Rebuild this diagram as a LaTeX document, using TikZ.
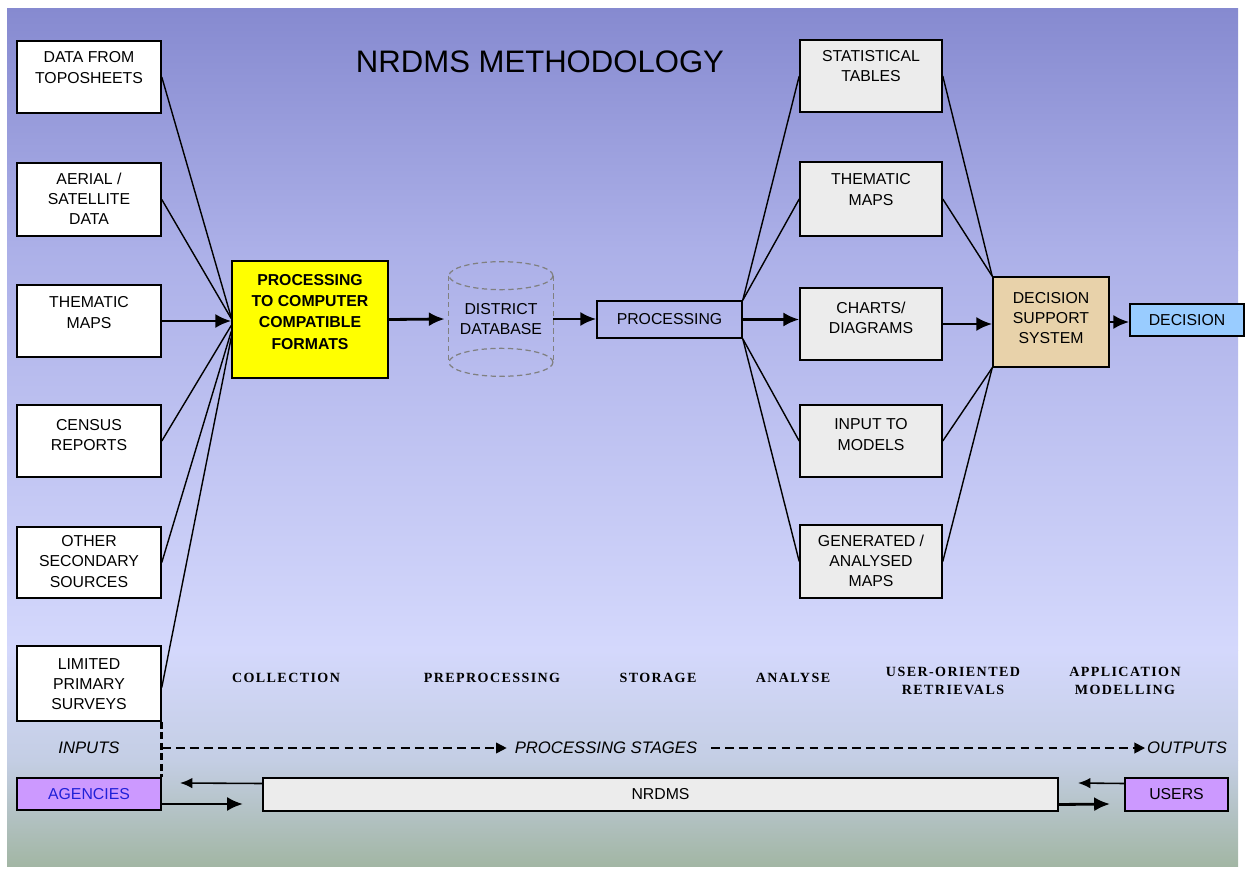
\documentclass[tikz,border=0pt]{standalone}
\usepackage{fontspec}
\setmainfont{Liberation Sans}
\newfontfamily\stagefont[LetterSpace=10]{Liberation Serif}
\usetikzlibrary{arrows.meta,calc}
\definecolor{bgA}{HTML}{868AD0}
\definecolor{bgB}{HTML}{ACB0E8}
\definecolor{bgC}{HTML}{D4D8FC}
\definecolor{bgD}{HTML}{C4CEE4}
\definecolor{bgE}{HTML}{A2B6A4}
\definecolor{boxgray}{HTML}{ECECEC}
\definecolor{procyellow}{HTML}{FFFF00}
\definecolor{dsstan}{HTML}{E8D2AA}
\definecolor{decblue}{HTML}{99CCFF}
\definecolor{agpurple}{HTML}{CC99FF}
\definecolor{agtext}{HTML}{2020D8}
\definecolor{cylgray}{HTML}{808080}
\begin{document}
\begin{tikzpicture}[x=0.02cm,y=-0.02cm,
  lbox/.style={draw=black, line width=0.9pt, fill=white, minimum width=2.88cm, minimum height=1.44cm, inner sep=0pt},
  rbox/.style={lbox, fill=boxgray, minimum width=2.84cm},
  btxt/.style={font=\fontsize{9}{11.5}\selectfont, align=center, inner sep=0pt},
  fan/.style={line width=0.8pt},
  arr/.style={line width=1.6pt, -{Latex[length=9pt,width=8pt]}},
  thinarr/.style={line width=0.9pt, -{Latex[length=7pt,width=6pt]}},
  dsh/.style={line width=1pt, dash pattern=on 5pt off 3pt, -{Triangle[length=6pt,width=6pt]}},
  stagelab/.style={font=\stagefont\bfseries\fontsize{8}{10}\selectfont, align=center, inner sep=0pt},
  itlab/.style={font=\itshape\fontsize{9.5}{11}\selectfont, inner sep=1pt},
  cyl/.style={draw=cylgray, line width=0.7pt, densely dashed}
]
\useasboundingbox (0,0) rectangle (1245,869);
% background
\shade[top color=bgA, bottom color=bgB] (7,8) rectangle (1238,250);
\shade[top color=bgB, bottom color=bgC] (7,250) rectangle (1238,650);
\shade[top color=bgC, bottom color=bgD] (7,650) rectangle (1238,760);
\shade[top color=bgD, bottom color=bgE] (7,760) rectangle (1238,866);

% title
\node[font=\fontsize{17.7}{20}\selectfont, inner sep=0pt] (title) at (540,62) {NRDMS METHODOLOGY};

% left input boxes
\node[lbox] (topo) at (89,77) {};
\node[btxt] (topoT) at (89,67.5) {DATA FROM\\TOPOSHEETS};
\node[lbox, minimum height=1.46cm] (aer) at (89,199.5) {};
\node[btxt] (aerT) at (89,199) {AERIAL /\\SATELLITE\\DATA};
\node[lbox] (them) at (89,321) {};
\node[btxt] (themT) at (89,312.5) {THEMATIC\\MAPS};
\node[lbox] (cen) at (89,441) {};
\node[btxt] (cenT) at (89,435) {CENSUS\\REPORTS};
\node[lbox, minimum height=1.42cm] (oth) at (89,562.5) {};
\node[btxt] (othT) at (89,561.5) {OTHER\\SECONDARY\\SOURCES};
\node[lbox, minimum height=1.5cm] (lim) at (89,683.5) {};
\node[btxt] (limT) at (89,684) {LIMITED\\PRIMARY\\SURVEYS};

% processing to computer compatible formats
\node[draw=black, line width=0.9pt, fill=procyellow, minimum width=3.12cm, minimum height=2.34cm, inner sep=0pt] (proc) at (310,319.5) {};
\node[btxt, font=\bfseries\fontsize{9}{12}\selectfont] (procT) at (310,312) {PROCESSING\\TO COMPUTER\\COMPATIBLE\\FORMATS};

% district database (cylinder)
\node[btxt, minimum width=2.08cm, minimum height=2.28cm] (db) at (501,319) {DISTRICT\\DATABASE};
\draw[cyl] ($(db.north)+(0,14)$) ellipse [x radius=1.04cm, y radius=0.28cm];
\draw[cyl] ($(db.south)+(0,-14)$) ellipse [x radius=1.04cm, y radius=0.28cm];
\draw[cyl] ($(db.north west)+(0,14)$) -- ($(db.south west)+(0,-14)$);
\draw[cyl] ($(db.north east)+(0,14)$) -- ($(db.south east)+(0,-14)$);

% processing
\node[draw=black, line width=0.9pt, minimum width=2.9cm, minimum height=0.74cm, inner sep=0pt, font=\fontsize{9}{11}\selectfont] (pr) at (669.5,319.5) {PROCESSING};

% right output boxes
\node[rbox] (stat) at (871,76) {};
\node[btxt] (statT) at (871,66) {STATISTICAL\\TABLES};
\node[rbox, minimum height=1.48cm] (thm) at (871,199) {};
\node[btxt] (thmT) at (871,189.5) {THEMATIC\\MAPS};
\node[rbox] (chart) at (871,324) {};
\node[btxt] (chartT) at (871,317.5) {CHARTS/\\DIAGRAMS};
\node[rbox] (mod) at (871,441) {};
\node[btxt] (modT) at (871,434.5) {INPUT TO\\MODELS};
\node[rbox, minimum height=1.46cm] (gen) at (871,561.5) {};
\node[btxt] (genT) at (871,561) {GENERATED /\\ANALYSED\\MAPS};

% decision support system
\node[draw=black, line width=0.9pt, fill=dsstan, minimum width=2.32cm, minimum height=1.8cm, inner sep=0pt] (dss) at (1051,322) {};
\node[btxt] (dssT) at (1051,318) {DECISION\\SUPPORT\\SYSTEM};
\node[draw=black, line width=0.9pt, fill=decblue, minimum width=2.28cm, minimum height=0.64cm, inner sep=0pt, font=\fontsize{9}{11}\selectfont] (dec) at (1187,320) {DECISION};

% fan-in lines
\draw[fan] (topo.east) -- ($(proc.west)+(0,-2)$);
\draw[fan] (aer.east) -- ($(proc.west)+(0,-1)$);
\draw[arr] (them.east) -- (them.east -| proc.west);
\draw[fan] (cen.east) -- ($(proc.west)+(0,6)$);
\draw[fan] (oth.east) -- ($(proc.west)+(0,12)$);
\draw[fan] ($(lim.east)+(0,4)$) -- ($(proc.west)+(0,18)$);

% main flow
\draw[arr] (proc.east) -- ($(db.west)+(-4,0)$);
\draw[arr] (db.east) -- (db.east -| pr.west);
\draw[arr] (pr.east) -- (pr.east -| chart.west);
\draw[fan] (pr.north east) -- (stat.west);
\draw[fan] (pr.north east) -- (thm.west);
\draw[fan] (pr.south east) -- (mod.west);
\draw[fan] (pr.south east) -- (gen.west);

\draw[fan] (stat.east) -- (dss.north west);
\draw[fan] (thm.east) -- (dss.north west);
\draw[arr] (chart.east) -- (chart.east -| dss.west);
\draw[fan] (mod.east) -- (dss.south west);
\draw[fan] (gen.east) -- (dss.south west);
\draw[arr] (dss.east) -- (dss.east -| dec.west);

% stage labels
\node[stagelab] (s1) at (286,678) {COLLECTION};
\node[stagelab] (s2) at (492,678) {PREPROCESSING};
\node[stagelab] (s3) at (658,678) {STORAGE};
\node[stagelab] (s4) at (793,678) {ANALYSE};
\node[stagelab] (s5) at (953,681) {USER-ORIENTED\\RETRIEVALS};
\node[stagelab] (s6) at (1125,681) {APPLICATION\\MODELLING};

% processing stages line
\node[itlab] (inp) at (89,748) {INPUTS};
\node[itlab] (ps) at (606,748) {PROCESSING STAGES};
\node[itlab] (outp) at (1187,748) {OUTPUTS};

% bottom boxes
\node[draw=black, line width=0.9pt, fill=agpurple, minimum width=2.88cm, minimum height=0.64cm, inner sep=0pt, font=\fontsize{9}{11}\selectfont, text=agtext] (ag) at (89,794) {AGENCIES};
\node[draw=black, line width=0.9pt, fill=boxgray, minimum width=15.9cm, minimum height=0.66cm, inner sep=0pt, font=\fontsize{9}{11}\selectfont] (nr) at (660.5,794.5) {NRDMS};
\node[draw=black, line width=0.9pt, fill=agpurple, minimum width=2.06cm, minimum height=0.66cm, inner sep=0pt, font=\fontsize{9}{11}\selectfont] (us) at (1176.5,794.5) {USERS};

\draw[line width=1.6pt, dash pattern=on 4pt off 2pt] (lim.south east) -- (ag.north east);
\draw[dsh] (lim.south east |- ps.west) -- ($(ps.west)+(-6,0)$);
\draw[dsh] ($(ps.east)+(12,0)$) -- (outp.west);

\coordinate (agR) at (243,804);
\coordinate (agL) at (180,783);
\coordinate (usL) at (1078,783);
\coordinate (usR) at (1110,804);
\draw[arr] ($(ag.east)+(0,10)$) -- (agR);
\draw[thinarr] ($(nr.west)+(0,-11)$) -- (agL);
\draw[thinarr] ($(us.west)+(0,-11)$) -- (usL);
\draw[arr] ($(nr.east)+(0,10)$) -- (usR);
\end{tikzpicture}
\end{document}
